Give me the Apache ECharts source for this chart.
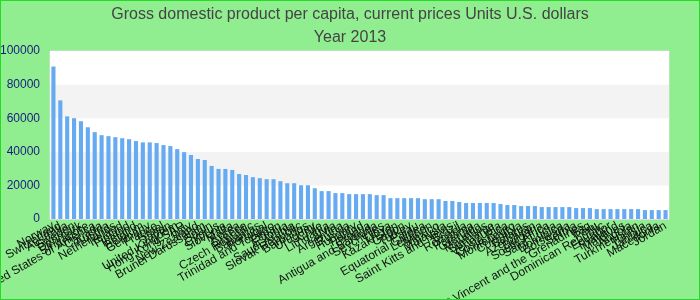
<!DOCTYPE html>
<html>
<head>
<meta charset="utf-8">
<script src="https://cdn.jsdelivr.net/npm/echarts@6/dist/echarts.min.js"></script>
<style>
html,body{margin:0;padding:0;background:#90EE90;}
#chart{width:700px;height:300px;box-sizing:border-box;border:1px solid #22dd22;}
</style>
</head>
<body>
<div id="chart"></div>
<script>
var countries = ["Norway","Switzerland","Australia","Sweden","Denmark","Singapore","United States of America","Canada","Austria","Netherlands",
"Ireland","Finland","Iceland","Belgium","Germany","France","Israel","Japan","United Kingdom","Hong Kong SAR",
"Italy","New Zealand","Brunei Darussalam","Spain","Cyprus","Slovenia","Malta","Korea","Greece","Czech Republic",
"Bahamas","Portugal","Trinidad and Tobago","Oman","Estonia","Saudi Arabia","Slovak Republic","Barbados","Uruguay","Chile",
"Lithuania","Latvia","Argentina","Russia","Hungary","Poland","Croatia","Antigua and Barbuda","Seychelles","Libya",
"Kazakhstan","Gabon","Turkey","Palau","Equatorial Guinea","Lebanon","Mexico","Malaysia","Saint Kitts and Nevis","Brazil",
"Romania","Panama","Grenada","Mauritius","Suriname","Venezuela","Costa Rica","Montenegro","Colombia","Belarus",
"Azerbaijan","Bulgaria","South Africa","Saint Lucia","Dominica","Botswana","Serbia","Saint Vincent and the Grenadines","Iraq","Peru",
"Dominican Republic","Ecuador","Thailand","Maldives","Angola","Turkmenistan","Tunisia","Jamaica","Macedonia","Jordan"];
var gdpValues = [90700,70600,61100,60000,58200,54600,51700,49900,49300,48700,
48100,47500,46400,45600,45600,45200,44000,43400,41600,39800,
38100,35700,35100,31600,29800,29800,29200,26800,26200,24900,
24300,23700,23700,22500,21300,21300,20100,20100,18300,16600,
16600,15400,15400,14800,14800,14800,14800,14200,14200,12400,
12400,12400,12400,12400,11800,11800,11800,10700,10700,10100,
9500,9500,9500,9500,9500,8900,8300,8300,7700,7700,
7700,7100,7100,7100,7100,7100,6500,6500,6500,5900,
5900,5900,5900,5900,5900,5900,5300,5300,5300,5300];
var yTicks = {min:0, max:100000, interval:20000};
var titleText = "Gross domestic product per capita, current prices Units U.S. dollars\nYear 2013";

var chart = echarts.init(document.getElementById('chart'), null, {renderer:'canvas'});
chart.setOption({
  backgroundColor:'#90EE90',
  animation:false,
  title:{
    text:titleText, left:'center', top:-3,
    textStyle:{fontFamily:'Liberation Sans', fontSize:16, fontWeight:'normal', color:'#444', lineHeight:23}
  },
  grid:{left:49, right:30, top:50, bottom:80, containLabel:false, outerBoundsMode:'none',
        show:true, backgroundColor:'#fff', borderColor:'#ddd', borderWidth:1},
  xAxis:{
    type:'category', data:countries,
    axisLine:{lineStyle:{color:'#ddd'}},
    axisTick:{show:false},
    axisLabel:{interval:0, rotate:30, color:'#111', fontFamily:'Liberation Sans', fontSize:12, margin:6}
  },
  yAxis:{
    type:'value', min:yTicks.min, max:yTicks.max, interval:yTicks.interval,
    axisLine:{show:false}, axisTick:{show:false},
    splitLine:{show:false},
    splitArea:{show:true, areaStyle:{color:['#ffffff','#f3f3f3']}},
    axisLabel:{color:'#1a1a80', fontFamily:'Liberation Sans', fontSize:12, margin:10,
               formatter:function(v){return String(v);}}
  },
  series:[{type:'bar', data:gdpValues, barCategoryGap:'40%', itemStyle:{color:'#66abf2'}}]
});
</script>
</body>
</html>
